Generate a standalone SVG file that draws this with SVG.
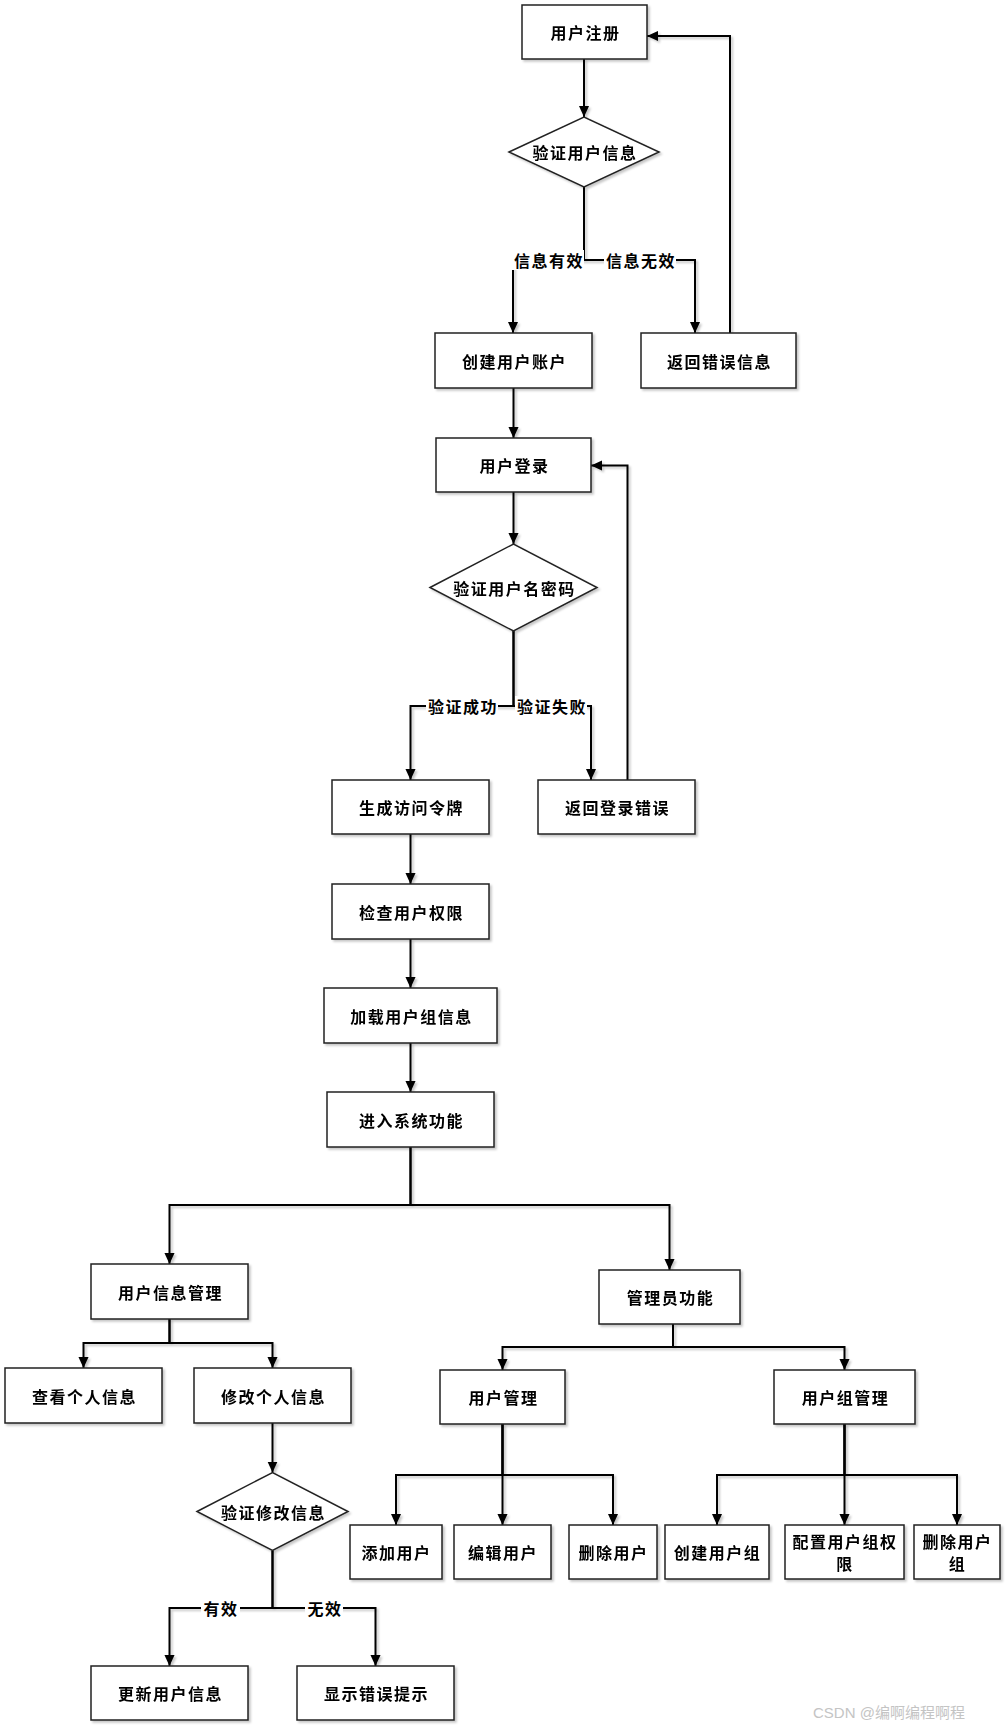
<svg xmlns="http://www.w3.org/2000/svg" width="1008" height="1729" viewBox="0 0 1008 1729">
<defs>
<filter id="sh" x="-10%" y="-10%" width="130%" height="140%">
<feDropShadow dx="2" dy="2" stdDeviation="1.2" flood-color="#000" flood-opacity="0.22"/>
</filter>
<marker id="arr" viewBox="0 0 12 12" refX="12" refY="6" markerWidth="11" markerHeight="11" markerUnits="userSpaceOnUse" orient="auto">
<path d="M0,0.5 L12,6 L0,11.5 z" fill="#000"/>
</marker>
<style>
.n rect, .n polygon { fill:#fff; stroke:#222; stroke-width:1.5; }
.n { filter:url(#sh); }
text { font-family:"Noto Sans CJK SC","Noto Sans",sans-serif; font-size:16px; font-weight:bold; fill:#000; text-anchor:middle; dominant-baseline:central; letter-spacing:1.5px; }
.c path { fill:none; stroke:#000; stroke-width:2; marker-end:url(#arr); }
.c { filter:url(#sh); }
.lb rect { fill:#fff; stroke:none; }
.wm { font-family:"Liberation Sans","Noto Sans CJK SC",sans-serif; font-weight:normal; fill:#c4c4c4; font-size:15px; letter-spacing:0; text-anchor:start; }
</style>
</defs>
<rect width="1008" height="1729" fill="#fff"/>

<g id="connectors" class="c">
<path d="M584,59 V117"/>
<path d="M584,187 V260 H513 V333"/>
<path d="M584,187 V260 H695 V333"/>
<path d="M730,333 V36 H647"/>
<path d="M513.5,388 V438"/>
<path d="M513.5,492 V544"/>
<path d="M513.5,631 V706 H410.5 V780"/>
<path d="M513.5,631 V706 H591 V780"/>
<path d="M627.5,780 V465.5 H591"/>
<path d="M410.5,834 V884"/>
<path d="M410.5,939 V988"/>
<path d="M410.5,1043 V1092"/>
<path d="M410.5,1147 V1205 H169.5 V1264"/>
<path d="M410.5,1147 V1205 H669.5 V1270"/>
<path d="M169.5,1319 V1343 H83.5 V1368"/>
<path d="M169.5,1319 V1343 H272.5 V1368"/>
<path d="M272.5,1423 V1472.5"/>
<path d="M272.5,1550.5 V1608 H169.5 V1666"/>
<path d="M272.5,1550.5 V1608 H375.5 V1666"/>
<path d="M673,1324 V1347 H502.5 V1370"/>
<path d="M673,1324 V1347 H844.5 V1370"/>
<path d="M502.5,1424 V1475 H396 V1525"/>
<path d="M502.5,1424 V1525"/>
<path d="M502.5,1424 V1475 H613 V1525"/>
<path d="M844.5,1424 V1475 H717 V1525"/>
<path d="M844.5,1424 V1525"/>
<path d="M844.5,1424 V1475 H957 V1525"/>
</g>

<g id="edge-labels" class="lb">
<rect x="512" y="250" width="72" height="20"/><text x="549" y="260">信息有效</text>
<rect x="604" y="250" width="72" height="20"/><text x="641" y="260">信息无效</text>
<rect x="426" y="696" width="72" height="20"/><text x="463" y="706">验证成功</text>
<rect x="515" y="696" width="72" height="20"/><text x="552" y="706">验证失败</text>
<rect x="201" y="1598" width="39" height="20"/><text x="221" y="1608">有效</text>
<rect x="305" y="1598" width="38" height="20"/><text x="325" y="1608">无效</text>
</g>

<g id="n-register" class="n"><rect x="522" y="5" width="125" height="54"/><text x="585.5" y="32">用户注册</text></g>
<g id="n-verify-info" class="n"><polygon points="509,152 584,117 659,152 584,187"/><text x="585" y="152">验证用户信息</text></g>
<g id="n-create-account" class="n"><rect x="435" y="333" width="157" height="55"/><text x="514.5" y="360.5">创建用户账户</text></g>
<g id="n-return-error" class="n"><rect x="641" y="333" width="155" height="55"/><text x="719.5" y="360.5">返回错误信息</text></g>
<g id="n-login" class="n"><rect x="436" y="438" width="155" height="54"/><text x="514.5" y="465">用户登录</text></g>
<g id="n-verify-pwd" class="n"><polygon points="430,587.5 513.5,544 597,587.5 513.5,631"/><text x="514.5" y="587.5">验证用户名密码</text></g>
<g id="n-token" class="n"><rect x="332" y="780" width="157" height="54"/><text x="411.5" y="807">生成访问令牌</text></g>
<g id="n-login-error" class="n"><rect x="538" y="780" width="157" height="54"/><text x="617.5" y="807">返回登录错误</text></g>
<g id="n-check-perm" class="n"><rect x="332" y="884" width="157" height="55"/><text x="411.5" y="911.5">检查用户权限</text></g>
<g id="n-load-group" class="n"><rect x="324" y="988" width="173" height="55"/><text x="411.5" y="1015.5">加载用户组信息</text></g>
<g id="n-enter" class="n"><rect x="327" y="1092" width="167" height="55"/><text x="411.5" y="1119.5">进入系统功能</text></g>
<g id="n-user-info-mgmt" class="n"><rect x="91" y="1264" width="157" height="55"/><text x="170.5" y="1291.5">用户信息管理</text></g>
<g id="n-view-info" class="n"><rect x="5" y="1368" width="157" height="55"/><text x="84.5" y="1395.5">查看个人信息</text></g>
<g id="n-edit-info" class="n"><rect x="194" y="1368" width="157" height="55"/><text x="273.5" y="1395.5">修改个人信息</text></g>
<g id="n-verify-edit" class="n"><polygon points="197,1511.5 272.5,1472.5 348,1511.5 272.5,1550.5"/><text x="273.5" y="1511.5">验证修改信息</text></g>
<g id="n-update-info" class="n"><rect x="91" y="1666" width="157" height="54"/><text x="170.5" y="1693">更新用户信息</text></g>
<g id="n-show-error" class="n"><rect x="297" y="1666" width="157" height="54"/><text x="376.5" y="1693">显示错误提示</text></g>
<g id="n-admin" class="n"><rect x="599" y="1270" width="141" height="54"/><text x="670.5" y="1297">管理员功能</text></g>
<g id="n-user-mgmt" class="n"><rect x="440" y="1370" width="125" height="54"/><text x="503.5" y="1397">用户管理</text></g>
<g id="n-group-mgmt" class="n"><rect x="774" y="1370" width="141" height="54"/><text x="845.5" y="1397">用户组管理</text></g>
<g id="n-add-user" class="n"><rect x="350" y="1525" width="92" height="54"/><text x="396.5" y="1552">添加用户</text></g>
<g id="n-edit-user" class="n"><rect x="454" y="1525" width="97" height="54"/><text x="503" y="1552">编辑用户</text></g>
<g id="n-del-user" class="n"><rect x="569" y="1525" width="88" height="54"/><text x="613.5" y="1552">删除用户</text></g>
<g id="n-create-group" class="n"><rect x="665" y="1525" width="104" height="54"/><text x="717.5" y="1552">创建用户组</text></g>
<g id="n-config-group" class="n"><rect x="785" y="1525" width="119" height="54"/><text x="845" y="1541">配置用户组权</text><text x="845" y="1563">限</text></g>
<g id="n-del-group" class="n"><rect x="914" y="1525" width="86" height="54"/><text x="957.5" y="1541">删除用户</text><text x="957.5" y="1563">组</text></g>

<text class="wm" x="813" y="1712">CSDN @编啊编程啊程</text>
</svg>
